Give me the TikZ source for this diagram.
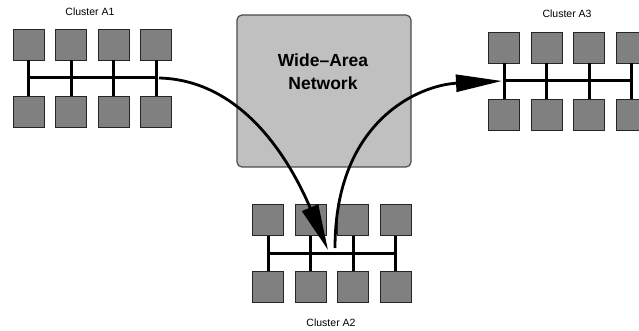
\documentclass[tikz,border=0pt]{standalone}
\usepackage{fontspec}
\setmainfont{Liberation Sans}
\usetikzlibrary{arrows.meta, positioning, calc}
\definecolor{hostgray}{RGB}{128,128,128}
\definecolor{wangray}{RGB}{192,192,192}

\tikzset{
    host/.style={draw=black!85, fill=hostgray, line width=0.9pt, minimum size=31pt, inner sep=0pt},
    bus/.style={line width=3pt},
    wan/.style={draw=black!70, fill=wangray, line width=1.2pt, rounded corners=5pt, minimum width=174pt, minimum height=152pt},
    flow/.style={line width=2.8pt, -{Triangle[length=46pt,width=17pt]}},
    clabel/.style={font=\fontsize{10.5}{12}\selectfont}
}

% one cluster: name, x of first host, y of top row
\newcommand{\hostcluster}[3]{%
    \foreach \i in {1,...,4} {
        \node[host] (#1t\i) at ({#2+42.5*(\i-1)},{#3}) {};
        \node[host] (#1b\i) at ({#2+42.5*(\i-1)},{#3+67}) {};
        \draw[bus] (#1t\i) -- (#1b\i);
    }
    \coordinate (#1w) at ($(#1t1)!0.5!(#1b1)$);
    \coordinate (#1e) at ($(#1t4)!0.5!(#1b4)$);
    \draw[bus, line cap=rect] (#1w) -- (#1e);
}

\begin{document}
\begin{tikzpicture}[x=1pt, y=-1pt]
    \clip (0,0) rectangle (639,331);
    \useasboundingbox (0,0) rectangle (639,331);

    % wide-area network
    \node[wan] (wan) at (324,91) {};
    \node[font=\bfseries\fontsize{17.5}{23}\selectfont, align=center] (wantext) at (323,72) {Wide–Area\\Network};

    % clusters
    \hostcluster{A1}{28.5}{44.5}
    \hostcluster{A3}{504}{47.5}
    \hostcluster{A2}{268}{220}

    \node[clabel] (A1label) at (90,12) {Cluster A1};
    \node[clabel] (A3label) at (567,14) {Cluster A3};
    \node[clabel] (A2label) at (331,322.5) {Cluster A2};

    % traffic through the WAN
    \coordinate (A1out) at ($(A1e)+(3,0)$);
    \coordinate (A2in) at (328,250);
    \coordinate (A2out) at (335,248);
    \coordinate (A3in) at ($(A3w)+(-2,0)$);
    \draw[flow] (A1out) .. controls (245,80) and (292,165) .. (A2in);
    \draw[flow] (A2out) .. controls (335,120) and (420,85) .. (A3in);
\end{tikzpicture}
\end{document}
